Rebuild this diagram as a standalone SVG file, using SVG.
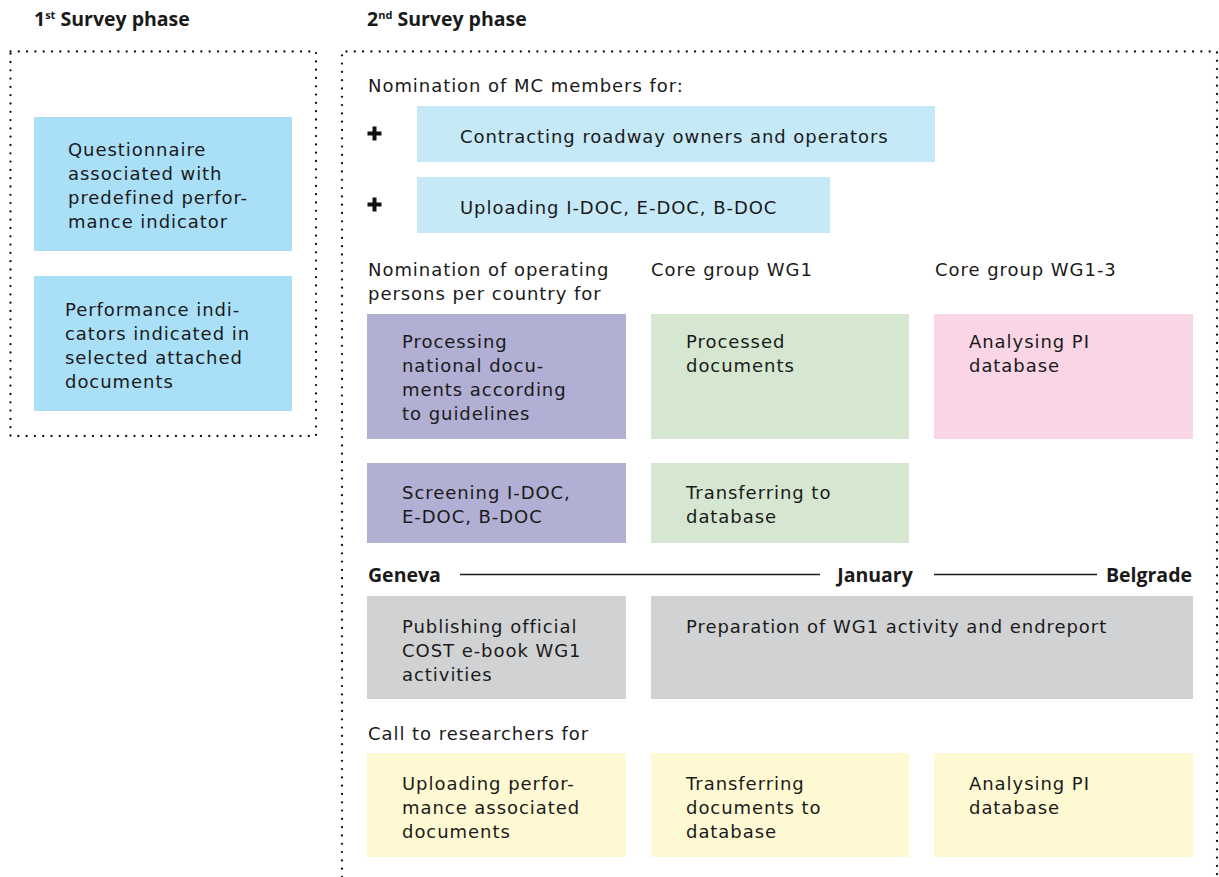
<svg xmlns="http://www.w3.org/2000/svg" width="1219" height="877" viewBox="0 0 1219 877">
<style>
text{font-family:"DejaVu Sans","Open Sans",sans-serif;font-size:18px;letter-spacing:0.95px;fill:#1a1a1a}
.b{font-family:"Open Sans","Noto Sans",sans-serif;font-size:19.5px;font-weight:700;letter-spacing:0}
.sup{font-size:11px;font-weight:700}
.dot{fill:none;stroke:#111;stroke-width:2.3;stroke-linecap:round;stroke-dasharray:0 8.3}
.lb{fill:#aadff8}.tb{fill:#c6e9f8}.pu{fill:#b1afd3}.gr{fill:#d6e7d1}.pk{fill:#f9d5e5}.gy{fill:#d1d2d4}.ye{fill:#fef9d3}
.tl{stroke:#1a1a1a;stroke-width:1.5}
</style>
<rect width="1219" height="877" fill="#fff"/>
<g id="headers">
<text class="b" x="34" y="26">1<tspan class="sup" dy="-7">st</tspan><tspan dy="7"> Survey phase</tspan></text>
<text class="b" x="367" y="26">2<tspan class="sup" dy="-7">nd</tspan><tspan dy="7"> Survey phase</tspan></text>
</g>
<g id="frames">
<path class="dot" d="M10.5 51.5 H316 V436 H10.5 Z"/>
<path class="dot" d="M342 877 V51.5 H1217 V877"/>
</g>
<g id="q1"><rect class="lb" x="34" y="117" width="258" height="134"/>
<text x="68" y="156">Questionnaire</text><text x="68" y="180">associated with</text><text x="68" y="204">predefined perfor-</text><text x="68" y="228">mance indicator</text></g>
<g id="q2"><rect class="lb" x="34" y="276" width="258" height="135"/>
<text x="65" y="316">Performance indi-</text><text x="65" y="340">cators indicated in</text><text x="65" y="364">selected attached</text><text x="65" y="388">documents</text></g>
<g id="labels">
<text x="368" y="92">Nomination of MC members for:</text>
<text x="368" y="276">Nomination of operating</text><text x="368" y="300">persons per country for</text>
<text x="651" y="276">Core group WG1</text>
<text x="935" y="276">Core group WG1-3</text>
<text x="368" y="740">Call to researchers for</text>
<path d="M367.5 133.5h14M374.5 126.5v14M367.5 204.5h14M374.5 197.5v14" stroke="#111" stroke-width="4"/>
</g>
<g id="n-contract"><rect class="tb" x="417" y="106" width="518" height="56"/><text x="460" y="143">Contracting roadway owners and operators</text></g>
<g id="n-upload"><rect class="tb" x="417" y="177" width="413" height="56"/><text x="460" y="214">Uploading I-DOC, E-DOC, B-DOC</text></g>
<g id="n-processing"><rect class="pu" x="367" y="314" width="259" height="125"/>
<text x="402" y="348">Processing</text><text x="402" y="372">national docu-</text><text x="402" y="396">ments according</text><text x="402" y="420">to guidelines</text></g>
<g id="n-processed"><rect class="gr" x="651" y="314" width="258" height="125"/>
<text x="686" y="348">Processed</text><text x="686" y="372">documents</text></g>
<g id="n-analysing1"><rect class="pk" x="934" y="314" width="259" height="125"/>
<text x="969" y="348">Analysing PI</text><text x="969" y="372">database</text></g>
<g id="n-screening"><rect class="pu" x="367" y="463" width="259" height="80"/>
<text x="402" y="499">Screening I-DOC,</text><text x="402" y="523">E-DOC, B-DOC</text></g>
<g id="n-transfer1"><rect class="gr" x="651" y="463" width="258" height="80"/>
<text x="686" y="499">Transferring to</text><text x="686" y="523">database</text></g>
<g id="timeline">
<text class="b" x="368" y="582">Geneva</text>
<line class="tl" x1="460" y1="574.5" x2="820" y2="574.5"/>
<text class="b" x="875" y="582" text-anchor="middle">January</text>
<line class="tl" x1="934" y1="574.5" x2="1097" y2="574.5"/>
<text class="b" x="1192" y="582" text-anchor="end">Belgrade</text>
</g>
<g id="n-publishing"><rect class="gy" x="367" y="596" width="259" height="103"/>
<text x="402" y="633">Publishing official</text><text x="402" y="657">COST e-book WG1</text><text x="402" y="681">activities</text></g>
<g id="n-preparation"><rect class="gy" x="651" y="596" width="542" height="103"/>
<text x="686" y="633">Preparation of WG1 activity and endreport</text></g>
<g id="n-upl-perf"><rect class="ye" x="367" y="753" width="259" height="104"/>
<text x="402" y="790">Uploading perfor-</text><text x="402" y="814">mance associated</text><text x="402" y="838">documents</text></g>
<g id="n-transfer2"><rect class="ye" x="651" y="753" width="258" height="104"/>
<text x="686" y="790">Transferring</text><text x="686" y="814">documents to</text><text x="686" y="838">database</text></g>
<g id="n-analysing2"><rect class="ye" x="934" y="753" width="259" height="104"/>
<text x="969" y="790">Analysing PI</text><text x="969" y="814">database</text></g>
<g id="connectors"></g>
</svg>
